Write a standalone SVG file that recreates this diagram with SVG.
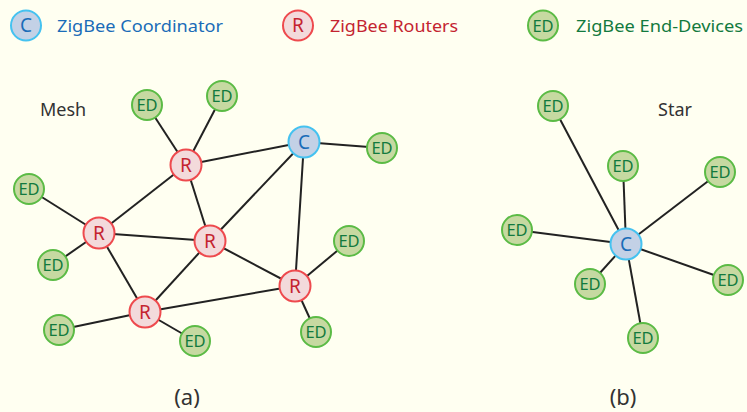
<svg xmlns="http://www.w3.org/2000/svg" width="747" height="412" viewBox="0 0 747 412">
<style>
  text { font-family: "Noto Sans", "Open Sans", sans-serif; }
  .c circle { fill: #C3D1E6; stroke: #45C2F0; stroke-width: 2; }
  .c text { fill: #1A6CB8; font-size: 19px; text-anchor: middle; }
  .r circle { fill: #F3DADB; stroke: #EE4A4E; stroke-width: 2; }
  .r text { fill: #C42430; font-size: 19px; text-anchor: middle; }
  .ed circle { fill: #C6D9A1; stroke: #5BBB45; stroke-width: 2; }
  .ed text { fill: #127A3E; font-size: 16.5px; text-anchor: middle; }
  .edges line { stroke: #222; stroke-width: 2; }
  .lbl { fill: #333; font-size: 18px; }
  .cap { fill: #333; font-size: 22px; text-anchor: middle; }
</style>
<rect width="747" height="412" fill="#FFFFF1"/>

<!-- Legend -->
<g id="legend-c" class="c"><circle cx="26" cy="25.5" r="15"/><text x="26" y="32">C</text></g>
<text x="57" y="32" font-size="17" fill="#1A6CB8" textLength="166" lengthAdjust="spacingAndGlyphs">ZigBee Coordinator</text>
<g id="legend-r" class="r"><circle cx="298" cy="25.5" r="15"/><text x="298" y="32">R</text></g>
<text x="330" y="32" font-size="17" fill="#C42430" textLength="128" lengthAdjust="spacingAndGlyphs">ZigBee Routers</text>
<g id="legend-ed" class="ed"><circle cx="543" cy="25.5" r="15"/><text x="543" y="31.5">ED</text></g>
<text x="576" y="32" font-size="17" fill="#127A3E" textLength="167" lengthAdjust="spacingAndGlyphs">ZigBee End-Devices</text>

<text class="lbl" x="40" y="116">Mesh</text>
<text class="lbl" x="675" y="116" text-anchor="middle">Star</text>
<text class="cap" x="187" y="405">(a)</text>
<text class="cap" x="623" y="405">(b)</text>

<g id="connectors" class="edges">
  <!-- mesh -->
  <line x1="147" y1="105" x2="186" y2="165"/>
  <line x1="222" y1="96" x2="186" y2="165"/>
  <line x1="186" y1="165" x2="304" y2="142"/>
  <line x1="186" y1="165" x2="99" y2="233"/>
  <line x1="186" y1="165" x2="210" y2="241"/>
  <line x1="304" y1="142" x2="382" y2="148"/>
  <line x1="304" y1="142" x2="210" y2="241"/>
  <line x1="304" y1="142" x2="295" y2="286"/>
  <line x1="29" y1="189" x2="99" y2="233"/>
  <line x1="53" y1="265" x2="99" y2="233"/>
  <line x1="99" y1="233" x2="210" y2="241"/>
  <line x1="99" y1="233" x2="145" y2="312"/>
  <line x1="210" y1="241" x2="145" y2="312"/>
  <line x1="210" y1="241" x2="295" y2="286"/>
  <line x1="145" y1="312" x2="295" y2="286"/>
  <line x1="145" y1="312" x2="59" y2="330"/>
  <line x1="145" y1="312" x2="195" y2="341"/>
  <line x1="295" y1="286" x2="349" y2="241"/>
  <line x1="295" y1="286" x2="316" y2="332"/>
  <!-- star -->
  <line x1="626" y1="244" x2="553" y2="106"/>
  <line x1="626" y1="244" x2="623" y2="166"/>
  <line x1="626" y1="244" x2="720" y2="172"/>
  <line x1="626" y1="244" x2="517" y2="230"/>
  <line x1="626" y1="244" x2="590" y2="284"/>
  <line x1="626" y1="244" x2="728" y2="280"/>
  <line x1="626" y1="244" x2="643" y2="338"/>
</g>

<!-- Mesh nodes -->
<g id="m-ed1" class="ed"><circle cx="147" cy="105" r="15"/><text x="147" y="111">ED</text></g>
<g id="m-ed2" class="ed"><circle cx="222" cy="96" r="15"/><text x="222" y="102">ED</text></g>
<g id="m-rT" class="r"><circle cx="186" cy="165" r="15.5"/><text x="186" y="171.8">R</text></g>
<g id="m-c" class="c"><circle cx="304" cy="142" r="15.5"/><text x="304" y="148.8">C</text></g>
<g id="m-ed3" class="ed"><circle cx="382" cy="148" r="15"/><text x="382" y="154">ED</text></g>
<g id="m-ed4" class="ed"><circle cx="29" cy="189" r="15"/><text x="29" y="195">ED</text></g>
<g id="m-rL" class="r"><circle cx="99" cy="233" r="15.5"/><text x="99" y="239.8">R</text></g>
<g id="m-rM" class="r"><circle cx="210" cy="241" r="15.5"/><text x="210" y="247.8">R</text></g>
<g id="m-ed5" class="ed"><circle cx="53" cy="265" r="15"/><text x="53" y="271">ED</text></g>
<g id="m-ed6" class="ed"><circle cx="349" cy="241" r="15"/><text x="349" y="247">ED</text></g>
<g id="m-rR" class="r"><circle cx="295" cy="286" r="15.5"/><text x="295" y="292.8">R</text></g>
<g id="m-rB" class="r"><circle cx="145" cy="312" r="15.5"/><text x="145" y="318.8">R</text></g>
<g id="m-ed7" class="ed"><circle cx="59" cy="330" r="15"/><text x="59" y="336">ED</text></g>
<g id="m-ed8" class="ed"><circle cx="195" cy="341" r="15"/><text x="195" y="347">ED</text></g>
<g id="m-ed9" class="ed"><circle cx="316" cy="332" r="15"/><text x="316" y="338">ED</text></g>

<!-- Star nodes -->
<g id="s-ed1" class="ed"><circle cx="553" cy="106" r="15"/><text x="553" y="112">ED</text></g>
<g id="s-ed2" class="ed"><circle cx="623" cy="166" r="15"/><text x="623" y="172">ED</text></g>
<g id="s-ed3" class="ed"><circle cx="720" cy="172" r="15"/><text x="720" y="178">ED</text></g>
<g id="s-ed4" class="ed"><circle cx="517" cy="230" r="15"/><text x="517" y="236">ED</text></g>
<g id="s-c" class="c"><circle cx="626" cy="244" r="15.5"/><text x="626" y="250.8">C</text></g>
<g id="s-ed5" class="ed"><circle cx="590" cy="284" r="15"/><text x="590" y="290">ED</text></g>
<g id="s-ed6" class="ed"><circle cx="728" cy="280" r="15"/><text x="728" y="286">ED</text></g>
<g id="s-ed7" class="ed"><circle cx="643" cy="338" r="15"/><text x="643" y="344">ED</text></g>
</svg>
